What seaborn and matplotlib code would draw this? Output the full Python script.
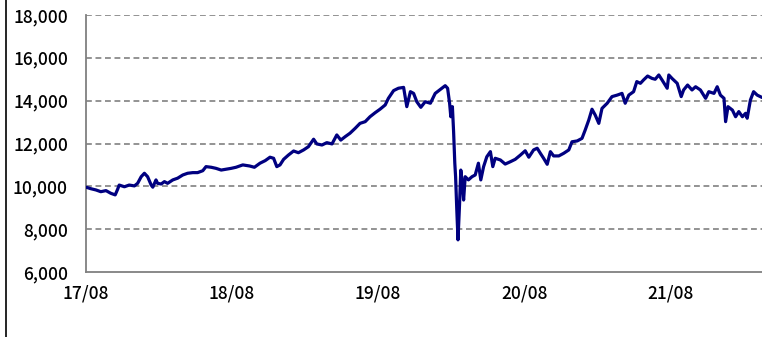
import numpy as np
import pandas as pd
import matplotlib
matplotlib.use("Agg")
import matplotlib.pyplot as plt
import matplotlib.dates as mdates
from matplotlib.lines import Line2D
from matplotlib.ticker import FuncFormatter
import seaborn as sns

# Fund NAV history: days elapsed since launch (2017-08-01) and NAV values
start_date = "2017-08-01"
days_from_start = [
    0, 12, 25, 37, 50, 62, 73, 79, 83, 96, 108, 121, 129, 138, 146, 154, 163, 167,
    175, 179, 188, 196, 204, 217, 229, 242, 254, 267, 279, 292, 300, 313, 325, 338,
    350, 363, 375, 392, 409, 421, 435, 448, 460, 469, 477, 485, 494, 506, 519, 531,
    544, 556, 569, 577, 590, 602, 615, 627, 637, 648, 660, 673, 685, 698, 710, 723,
    735, 748, 756, 769, 781, 794, 802, 811, 819, 827, 837, 848, 861, 873, 886, 898,
    904, 909, 912, 916, 919, 922, 924, 927, 930, 934, 937, 941, 944, 948, 956, 965,
    973, 981, 987, 994, 1002, 1011, 1017, 1023, 1036, 1048, 1061, 1073, 1086, 1098,
    1107, 1119, 1128, 1136, 1144, 1153, 1161, 1169, 1182, 1194, 1207, 1215, 1228,
    1240, 1248, 1257, 1265, 1273, 1282, 1290, 1303, 1315, 1328, 1340, 1348, 1357,
    1369, 1377, 1386, 1394, 1404, 1415, 1423, 1432, 1440, 1453, 1457, 1465, 1478,
    1488, 1494, 1504, 1515, 1524, 1536, 1549, 1557, 1570, 1578, 1586, 1595, 1599,
    1605, 1616, 1624, 1632, 1641, 1649, 1653, 1661, 1669, 1678, 1690,
]
nav = [
    9960, 9890, 9830, 9750, 9800, 9675, 9600, 9860, 10060, 9980, 10060, 10020, 10140,
    10450, 10610, 10450, 10060, 9960, 10300, 10140, 10110, 10220, 10140, 10300, 10380,
    10530, 10610, 10640, 10640, 10730, 10920, 10890, 10840, 10760, 10800, 10840, 10890,
    11000, 10950, 10890, 11080, 11200, 11360, 11310, 10920, 11000, 11260, 11460, 11650,
    11570, 11700, 11850, 12200, 11980, 11930, 12040, 11980, 12400, 12160, 12320, 12480,
    12710, 12940, 13020, 13250, 13440, 13600, 13800, 14110, 14470, 14580, 14620, 13720,
    14420, 14340, 13950, 13690, 13950, 13880, 14340, 14530, 14700, 14580, 13880, 13250,
    13720, 12550, 11080, 10450, 8900, 7500, 9210, 10760, 10140, 9360, 10450, 10300,
    10450, 10530, 11080, 10300, 10920, 11380, 11620, 10920, 11310, 11230, 11040, 11150,
    11260, 11460, 11660, 11360, 11700, 11780, 11540, 11310, 11030, 11620, 11420, 11420,
    11540, 11700, 12080, 12120, 12240, 12630, 13100, 13600, 13330, 12940, 13640, 13880,
    14190, 14260, 14340, 13880, 14260, 14420, 14890, 14810, 14970, 15150, 15040, 15000,
    15200, 14970, 14580, 15200, 15040, 14810, 14190, 14500, 14730, 14500, 14650, 14500,
    14110, 14420, 14340, 14650, 14260, 14110, 13020, 13720, 13560, 13250, 13490, 13250,
    13410, 13180, 14030, 14420, 14260, 14150,
]
y_ticks = [6000, 8000, 10000, 12000, 14000, 16000, 18000]
x_tick_dates = ["2017-08-01", "2018-08-01", "2019-08-01", "2020-08-01", "2021-08-01"]
x_end = "2022-03-18"

df = pd.DataFrame({
    "date": pd.Timestamp(start_date) + pd.to_timedelta(days_from_start, unit="D"),
    "nav": nav,
})

sns.set_style("white")
plt.rcParams["font.family"] = ["Noto Sans CJK JP", "DejaVu Sans"]

fig = plt.figure(figsize=(7.62, 3.37), dpi=100)
ax = fig.add_axes([86 / 762, 65 / 337, 1 - 86 / 762, 257 / 337])

grid_color = "#808080"
for yv in y_ticks[1:]:
    ax.axhline(yv, color=grid_color, lw=1.2, ls=(0, (3.5, 2.2)), zorder=1)

sns.lineplot(data=df, x="date", y="nav", ax=ax, color="#000080", lw=2.3, zorder=3)

ax.set_xlim(pd.Timestamp(start_date), pd.Timestamp(x_end))
ax.set_ylim(y_ticks[0], y_ticks[-1])
ax.set_yticks(y_ticks)
ax.yaxis.set_major_formatter(FuncFormatter(lambda v, p: f"{int(v):,}"))
ax.set_xticks(pd.to_datetime(x_tick_dates))
ax.xaxis.set_major_formatter(mdates.DateFormatter("%y/%m"))
ax.set_xlabel("")
ax.set_ylabel("")

for side in ("top", "right"):
    ax.spines[side].set_visible(False)
for side in ("left", "bottom"):
    ax.spines[side].set_color(grid_color)
    ax.spines[side].set_linewidth(1.3)

ax.tick_params(axis="y", length=0, pad=13, labelsize=12.5, labelcolor="black")
ax.tick_params(axis="x", direction="in", length=4, width=0.8, color=grid_color,
               pad=9, labelsize=12.5, labelcolor="black")
for lbl in ax.get_xticklabels() + ax.get_yticklabels():
    lbl.set_fontweight("medium")

# frame line along the left edge of the panel
fig.add_artist(Line2D([5.5 / 762, 5.5 / 762], [0, 1], transform=fig.transFigure,
                      color="black", lw=1.2))

fig.savefig("out.png", dpi=100)
